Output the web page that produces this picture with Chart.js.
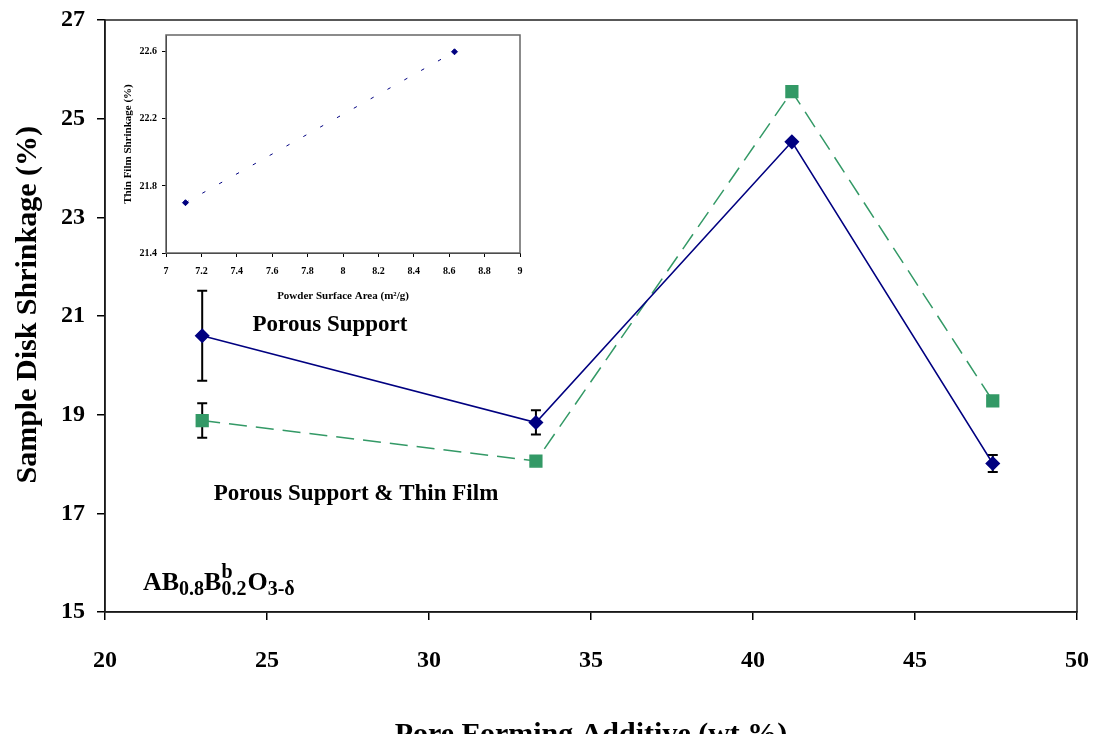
<!DOCTYPE html>
<html>
<head>
<meta charset="utf-8">
<script src="https://cdn.jsdelivr.net/npm/chart.js@4.4.0/dist/chart.umd.min.js"></script>
<style>
body { margin: 0; background: #fff; }
#wrap { position: relative; width: 1093px; height: 734px; overflow: hidden; }
#mainChart { position: absolute; left: 0; top: 0; }
#insetChart { position: absolute; left: 100px; top: 25px; }
</style>
</head>
<body>
<div id="wrap">
<canvas id="mainChart" width="1093" height="734"></canvas>
<canvas id="insetChart" width="430" height="285"></canvas>
</div>
<script>
// main chart data
const additive = [23, 33.3, 41.2, 47.4];
const porousSupport = [20.6, 18.84, 24.53, 18.01];
const porousSupportLow = [19.69, 18.6, null, 17.84];
const porousSupportHigh = [21.51, 19.09, null, 18.18];
const supportFilm = [18.88, 18.06, 25.55, 19.28];
const supportFilmLow = [18.53, null, null, null];
const supportFilmHigh = [19.23, null, null, null];
const xTicks = [20, 25, 30, 35, 40, 45, 50];
const yTicks = [15, 17, 19, 21, 23, 25, 27];

// inset data
const surfaceArea = [7.11, 8.63];
const filmShrinkage = [21.7, 22.6];
const insetXTicks = [7, 7.2, 7.4, 7.6, 7.8, 8, 8.2, 8.4, 8.6, 8.8, 9];
const insetYTicks = [21.4, 21.8, 22.2, 22.6];

const serif = "'Liberation Serif', 'Times New Roman', serif";

function pts(xs, ys) {
    return xs.map((x, i) => ({ x: x, y: ys[i] }));
}

// fixed axis sizes, and no extra padding from the tick labels
function fixSize(w, h) {
    return s => {
        if (w) s.width = w;
        if (h) s.height = h;
        s.paddingLeft = 0;
        s.paddingRight = 0;
        s.paddingTop = 0;
        s.paddingBottom = 0;
    };
}

// box around the plot area
const frame = {
    id: 'frame',
    afterDraw(chart, args, opts) {
        const a = chart.chartArea;
        const ctx = chart.ctx;
        ctx.save();
        ctx.strokeStyle = opts.color;
        ctx.lineWidth = opts.width;
        ctx.strokeRect(a.left, a.top, a.right - a.left, a.bottom - a.top);
        ctx.restore();
    }
};

// vertical error bars, drawn under the markers
const errorBars = {
    id: 'errorBars',
    beforeDatasetsDraw(chart) {
        const ctx = chart.ctx;
        const xs = chart.scales.x;
        const ys = chart.scales.y;
        ctx.save();
        ctx.strokeStyle = '#000';
        ctx.lineWidth = 2;
        chart.data.datasets.forEach(ds => {
            if (!ds.low) return;
            ds.data.forEach((p, i) => {
                if (ds.low[i] == null) return;
                const px = xs.getPixelForValue(p.x);
                const lo = ys.getPixelForValue(ds.low[i]);
                const hi = ys.getPixelForValue(ds.high[i]);
                ctx.beginPath();
                ctx.moveTo(px, lo); ctx.lineTo(px, hi);
                ctx.moveTo(px - 5, lo); ctx.lineTo(px + 5, lo);
                ctx.moveTo(px - 5, hi); ctx.lineTo(px + 5, hi);
                ctx.stroke();
            });
        });
        ctx.restore();
    }
};

// text labels on the main chart
const labels = {
    id: 'labels',
    afterDraw(chart) {
        const ctx = chart.ctx;
        ctx.save();
        ctx.fillStyle = '#000';
        ctx.textAlign = 'center';
        ctx.textBaseline = 'middle';
        ctx.font = 'bold 23px ' + serif;
        ctx.fillText('Porous Support', 330, 325);
        ctx.fillText('Porous Support & Thin Film', 356, 494);

        // AB0.8Bb0.2O3-δ
        const big = 'bold 26px ' + serif;
        const small = 'bold 20px ' + serif;
        ctx.textAlign = 'left';
        ctx.textBaseline = 'alphabetic';
        let x = 143;
        const base = 590;
        function put(t, font, dy) {
            ctx.font = font;
            ctx.fillText(t, x, base + dy);
            return ctx.measureText(t).width;
        }
        x += put('AB', big, 0);
        x += put('0.8', small, 5);
        x += put('B', big, 0);
        const wb = put('b', small, -12);
        const w2 = put('0.2', small, 5);
        x += Math.max(wb, w2) + 1;
        x += put('O', big, 0);
        put('3-δ', small, 5);
        ctx.restore();
    }
};

new Chart(document.getElementById('mainChart'), {
    type: 'scatter',
    data: {
        datasets: [{
            label: 'Porous Support',
            data: pts(additive, porousSupport),
            low: porousSupportLow,
            high: porousSupportHigh,
            showLine: true,
            borderColor: '#000080',
            borderWidth: 1.5,
            pointStyle: 'rectRot',
            pointRadius: 6.5,
            pointBackgroundColor: '#000080',
            pointBorderColor: '#000080',
            order: 1
        }, {
            label: 'Porous Support & Thin Film',
            data: pts(additive, supportFilm),
            low: supportFilmLow,
            high: supportFilmHigh,
            showLine: true,
            borderColor: '#339966',
            borderWidth: 1.5,
            borderDash: [18, 9],
            pointStyle: 'rect',
            pointRadius: 8.3,
            pointBackgroundColor: '#339966',
            pointBorderColor: '#339966',
            order: 2
        }]
    },
    options: {
        responsive: false,
        animation: false,
        layout: { autoPadding: false, padding: { left: 0, right: 16, top: 20, bottom: 0 } },
        plugins: {
            legend: { display: false },
            tooltip: { enabled: false },
            frame: { color: '#222', width: 1.5 }
        },
        scales: {
            x: {
                type: 'linear',
                min: 20,
                max: 50,
                afterBuildTicks: s => { s.ticks = xTicks.map(v => ({ value: v })); },
                afterFit: fixSize(0, 122),
                grid: { drawOnChartArea: false, tickLength: 8, color: '#000', lineWidth: 1.5 },
                border: { color: '#000', width: 1.5 },
                ticks: {
                    color: '#000',
                    padding: 26,
                    maxRotation: 0,
                    font: { family: serif, size: 24, weight: 'bold' }
                },
                title: {
                    display: true,
                    text: 'Pore Forming Additive (wt.%)',
                    color: '#000',
                    padding: { top: 0, bottom: -19 },
                    font: { family: serif, size: 30, weight: 'bold' }
                }
            },
            y: {
                type: 'linear',
                min: 15,
                max: 27,
                afterBuildTicks: s => { s.ticks = yTicks.map(v => ({ value: v })); },
                afterFit: fixSize(105, 0),
                grid: { drawOnChartArea: false, tickLength: 8, color: '#000', lineWidth: 1.5 },
                border: { color: '#000', width: 1.5 },
                ticks: {
                    color: '#000',
                    padding: 12,
                    font: { family: serif, size: 24, weight: 'bold' }
                },
                title: {
                    display: true,
                    text: '   Sample Disk Shrinkage (%)',
                    color: '#000',
                    padding: { top: 10, bottom: 0 },
                    font: { family: serif, size: 30, weight: 'bold' }
                }
            }
        }
    },
    plugins: [frame, errorBars, labels]
});

new Chart(document.getElementById('insetChart'), {
    type: 'scatter',
    data: {
        datasets: [{
            label: 'Thin Film',
            data: pts(surfaceArea, filmShrinkage),
            showLine: true,
            borderColor: '#000080',
            borderWidth: 1,
            borderDash: [3.5, 15.8],
            pointStyle: 'rectRot',
            pointRadius: 3,
            pointBackgroundColor: '#000080',
            pointBorderColor: '#000080'
        }]
    },
    options: {
        responsive: false,
        animation: false,
        layout: { autoPadding: false, padding: { left: 0, right: 10, top: 10, bottom: 0 } },
        plugins: {
            legend: { display: false },
            tooltip: { enabled: false },
            frame: { color: '#666', width: 1.5 }
        },
        scales: {
            x: {
                type: 'linear',
                min: 7,
                max: 9,
                afterBuildTicks: s => { s.ticks = insetXTicks.map(v => ({ value: v })); },
                afterFit: fixSize(0, 57),
                grid: { drawOnChartArea: false, tickLength: 4, color: '#000', lineWidth: 1 },
                border: { color: '#000', width: 1 },
                ticks: {
                    color: '#000',
                    padding: 8,
                    maxRotation: 0,
                    callback: v => String(Math.round(v * 10) / 10),
                    font: { family: serif, size: 10, weight: 'bold' }
                },
                title: {
                    display: true,
                    text: 'Powder Surface Area (m²/g)',
                    color: '#000',
                    padding: { top: 0, bottom: 7 },
                    font: { family: serif, size: 11, weight: 'bold' }
                }
            },
            y: {
                type: 'linear',
                min: 21.4,
                max: 22.7,
                afterBuildTicks: s => { s.ticks = insetYTicks.map(v => ({ value: v })); },
                afterFit: fixSize(66, 0),
                grid: { drawOnChartArea: false, tickLength: 4, color: '#000', lineWidth: 1 },
                border: { color: '#000', width: 1 },
                ticks: {
                    color: '#000',
                    padding: 5,
                    callback: v => String(Math.round(v * 10) / 10),
                    font: { family: serif, size: 10, weight: 'bold' }
                },
                title: {
                    display: true,
                    text: 'Thin Film Shrinkage (%)',
                    color: '#000',
                    padding: { top: 22, bottom: 0 },
                    font: { family: serif, size: 11, weight: 'bold' }
                }
            }
        }
    },
    plugins: [frame]
});
</script>
</body>
</html>
